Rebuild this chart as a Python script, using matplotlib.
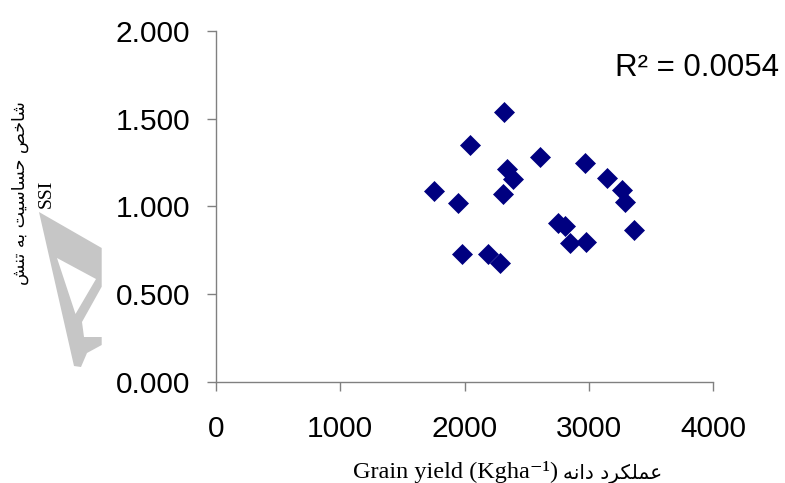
import numpy as np
import matplotlib
matplotlib.use("Agg")
import matplotlib.pyplot as plt
from matplotlib.path import Path
from matplotlib.patches import PathPatch

# --- data ---
grain_yield = [2315, 2047, 2608, 2972, 2340, 2388, 3144, 3265, 3292, 1754,
               1950, 2312, 2755, 2809, 2849, 2978, 3366, 1977, 2191, 2286]
ssi = [1.538, 1.349, 1.280, 1.246, 1.212, 1.155, 1.161, 1.094, 1.027, 1.090,
       1.018, 1.071, 0.904, 0.889, 0.790, 0.796, 0.866, 0.728, 0.729, 0.676]
x_ticks = [0, 1000, 2000, 3000, 4000]
y_ticks = [0.0, 0.5, 1.0, 1.5, 2.0]
r2_label = "R\u00b2 = 0.0054"
ylabel_fa = "شاخص حساسیت به تنش"
ylabel_en = "SSI"
xlabel_en = "Grain yield (Kgha\u207b\u00b9)"
xlabel_fa = "عملکرد دانه"

# minimal Persian shaping (matplotlib has no complex text layout)
# char -> (isolated, final, initial, medial); two entries = joins to the right only
FORMS = {
    "ا": ("\uFE8D", "\uFE8E"),
    "د": ("\uFEA9", "\uFEAA"),
    "ر": ("\uFEAD", "\uFEAE"),
    "ب": ("\uFE8F", "\uFE90", "\uFE91", "\uFE92"),
    "ت": ("\uFE95", "\uFE96", "\uFE97", "\uFE98"),
    "ح": ("\uFEA1", "\uFEA2", "\uFEA3", "\uFEA4"),
    "خ": ("\uFEA5", "\uFEA6", "\uFEA7", "\uFEA8"),
    "س": ("\uFEB1", "\uFEB2", "\uFEB3", "\uFEB4"),
    "ش": ("\uFEB5", "\uFEB6", "\uFEB7", "\uFEB8"),
    "ص": ("\uFEB9", "\uFEBA", "\uFEBB", "\uFEBC"),
    "ع": ("\uFEC9", "\uFECA", "\uFECB", "\uFECC"),
    "ک": ("\uFB8E", "\uFB8F", "\uFB90", "\uFB91"),
    "ل": ("\uFEDD", "\uFEDE", "\uFEDF", "\uFEE0"),
    "م": ("\uFEE1", "\uFEE2", "\uFEE3", "\uFEE4"),
    "ن": ("\uFEE5", "\uFEE6", "\uFEE7", "\uFEE8"),
    "ه": ("\uFEE9", "\uFEEA", "\uFEEB", "\uFEEC"),
    "ی": ("\uFBFC", "\uFBFD", "\uFBFE", "\uFBFF"),
}


def shape_fa(text):
    out = []
    for i, c in enumerate(text):
        if c not in FORMS:
            out.append(c)
            continue
        prev = text[i - 1] if i > 0 else None
        nxt = text[i + 1] if i + 1 < len(text) else None
        join_prev = prev in FORMS and len(FORMS[prev]) == 4
        join_next = len(FORMS[c]) == 4 and nxt in FORMS
        f = FORMS[c]
        if join_prev and join_next:
            out.append(f[3])
        elif join_prev:
            out.append(f[1])
        elif join_next:
            out.append(f[2])
        else:
            out.append(f[0])
    return "".join(reversed(out))


W, H = 785, 483
fig = plt.figure(figsize=(W / 100, H / 100), dpi=100)
ax = fig.add_axes([216 / W, 1 - 382 / H, 497 / W, 351 / H])

ax.plot(grain_yield, ssi, linestyle="none", marker="D", markersize=10.2,
        color="#000080", markeredgecolor="#000080", markeredgewidth=0.5,
        clip_on=False)

ax.set_xlim(0, 4000)
ax.set_ylim(0, 2.0)
ax.set_xticks(x_ticks)
ax.set_yticks(y_ticks)
ax.set_xticklabels([str(v) for v in x_ticks])
ax.set_yticklabels([f"{v:.3f}" for v in y_ticks])
for side in ["top", "right"]:
    ax.spines[side].set_visible(False)
for side in ["left", "bottom"]:
    ax.spines[side].set_color("#808080")
    ax.spines[side].set_linewidth(1.0)
ax.tick_params(axis="both", direction="out", length=6.5, width=1.0,
               color="#808080", labelsize=21.5, labelcolor="black")
ax.tick_params(axis="x", pad=17.5)
ax.tick_params(axis="y", pad=12)
for lab in ax.get_xticklabels() + ax.get_yticklabels():
    lab.set_fontfamily("Liberation Sans")

fig.text(615 / W, 1 - 68 / H, r2_label, fontsize=22.5, family="Liberation Sans",
         ha="left", va="center")

# axis titles
fig.text(20 / W, 1 - 193 / H, shape_fa(ylabel_fa), rotation=90, fontsize=12.5,
         family="DejaVu Sans", ha="center", va="center")
fig.text(46 / W, 1 - 194 / H, ylabel_en, rotation=90, fontsize=14,
         family="Liberation Serif", ha="center", va="center")
fig.text(353 / W, 1 - 478 / H, xlabel_en, fontsize=17.5,
         family=["Liberation Serif", "DejaVu Sans"], ha="left", va="baseline")
fig.text(563 / W, 1 - 478 / H, shape_fa(xlabel_fa), fontsize=14.5,
         family="DejaVu Sans", ha="left", va="baseline")

# grey watermark logo on the left
outer = [(39, 212), (101.7, 248), (101.7, 286.7), (82, 322), (84, 337),
         (101.7, 337), (101.7, 345), (87, 353), (81, 367), (74, 366)]
hole = [(57, 258), (75.5, 314), (96, 279)]
verts, codes = [], []
for ring in (outer, hole):
    pts = [(x / W, 1 - y / H) for x, y in ring]
    verts += pts + [pts[0]]
    codes += [Path.MOVETO] + [Path.LINETO] * (len(pts) - 1) + [Path.CLOSEPOLY]
fig.patches.append(PathPatch(Path(verts, codes), transform=fig.transFigure,
                             facecolor="#c6c6c6", edgecolor="none", zorder=0))

fig.savefig("out.png", dpi=100)
